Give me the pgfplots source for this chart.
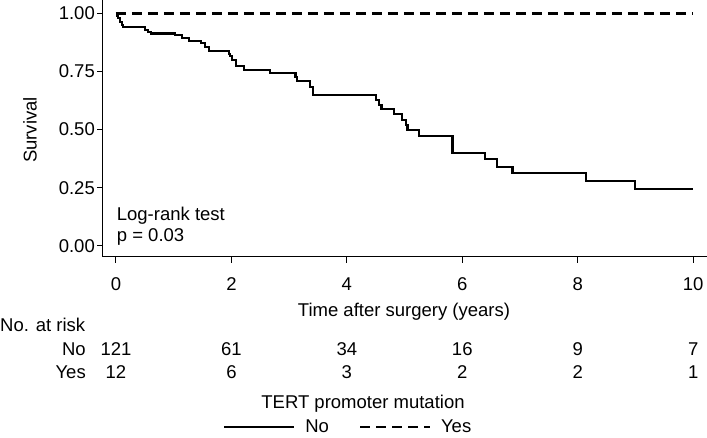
\documentclass[border=0pt]{standalone}
\usepackage{fontspec}
\setmainfont{Liberation Sans}
\usepackage{pgfplots}
\pgfplotsset{compat=1.18}
\begin{document}
\begin{tikzpicture}[font=\fontsize{18.5}{22}\selectfont]
\path[use as bounding box] (0pt,0pt) rectangle (707pt,-438pt);
\begin{axis}[
  at={(103pt,-256.7pt)}, anchor=south west,
  scale only axis, width=604pt, height=256.7pt,
  xmin=-0.225, xmax=10.24, ymin=-0.047, ymax=1.058,
  axis lines=left, axis line style={-, line width=1pt},
  xtick={0,2,4,6,8,10}, ytick={0,0.25,0.5,0.75,1},
  tick align=outside, major tick length=6pt,
  tick style={black, line width=1pt},
  /pgf/number format/assume math mode=true,
  yticklabel style={/pgf/number format/fixed, /pgf/number format/fixed zerofill, /pgf/number format/precision=2,
    anchor=east, inner sep=0pt, xshift=-2pt},
  xticklabel style={anchor=north, inner sep=0pt, yshift=-15pt},
  ylabel={Survival},
  every axis y label/.style={at={(axis description cs:-0.121,0.494)}, rotate=90, anchor=center},
  xlabel={Time after surgery (years)},
  every axis x label/.style={at={(axis description cs:0.4983,-0.233)}, anchor=base},
  clip=false,
  legend columns=2,
  legend style={at={(axis description cs:0.1987,-0.663)}, anchor=west, draw=none, fill=none,
    inner sep=0pt, nodes={inner sep=0pt},
    /tikz/every even column/.append style={column sep=30pt}},
  legend image code/.code={\draw[#1] (0pt,0pt) -- (70pt,0pt); \path (80pt,0pt);},
]
\addplot[const plot, black, line width=2.1pt] coordinates {
(0,1.000) (0.02,0.99) (0.04,0.98) (0.07,0.965) (0.10,0.952) (0.12,0.940)
(0.50,0.93) (0.56,0.921) (0.60,0.914) (1.03,0.907) (1.14,0.895) (1.27,0.882)
(1.47,0.874) (1.54,0.857) (1.61,0.839) (1.96,0.827) (1.98,0.817) (2.01,0.799)
(2.08,0.774) (2.22,0.757) (2.67,0.742) (3.11,0.725) (3.14,0.709) (3.36,0.684)
(3.41,0.649) (4.51,0.627) (4.55,0.607) (4.60,0.587) (4.82,0.566) (4.95,0.541)
(5.02,0.52) (5.05,0.498) (5.25,0.474) (5.83,0.398) (6.40,0.372) (6.60,0.340)
(6.87,0.314) (8.15,0.280) (9.00,0.245) (10.0,0.245)};
\addlegendentry{No}
\addplot[black, line width=2.1pt, dash pattern=on 10pt off 6pt] coordinates {(0,1) (10,1)};
\addlegendentry{Yes}
\node[anchor=base west, inner sep=0pt] at (axis cs:0.012,0.1106) {Log-rank test};
\node[anchor=base west, inner sep=0pt] at (axis cs:0.012,0.0172) {p = 0.03};
\node[anchor=base west, inner sep=0pt] at (axis cs:-2.010,-0.367) {No. at risk};
\node[anchor=base east, inner sep=0pt] at (axis cs:-0.52,-0.4705) {No};
\node[anchor=base east, inner sep=0pt] at (axis cs:-0.52,-0.5695) {Yes};
\node[anchor=base, inner sep=0pt] at (axis cs:0,-0.4705) {121};
\node[anchor=base, inner sep=0pt] at (axis cs:2,-0.4705) {61};
\node[anchor=base, inner sep=0pt] at (axis cs:4,-0.4705) {34};
\node[anchor=base, inner sep=0pt] at (axis cs:6,-0.4705) {16};
\node[anchor=base, inner sep=0pt] at (axis cs:8,-0.4705) {9};
\node[anchor=base, inner sep=0pt] at (axis cs:10,-0.4705) {7};
\node[anchor=base, inner sep=0pt] at (axis cs:0,-0.5695) {12};
\node[anchor=base, inner sep=0pt] at (axis cs:2,-0.5695) {6};
\node[anchor=base, inner sep=0pt] at (axis cs:4,-0.5695) {3};
\node[anchor=base, inner sep=0pt] at (axis cs:6,-0.5695) {2};
\node[anchor=base, inner sep=0pt] at (axis cs:8,-0.5695) {2};
\node[anchor=base, inner sep=0pt] at (axis cs:10,-0.5695) {1};
\node[anchor=base, inner sep=0pt] at (axis cs:4.28,-0.699) {TERT promoter mutation};
\end{axis}
\end{tikzpicture}
\end{document}
